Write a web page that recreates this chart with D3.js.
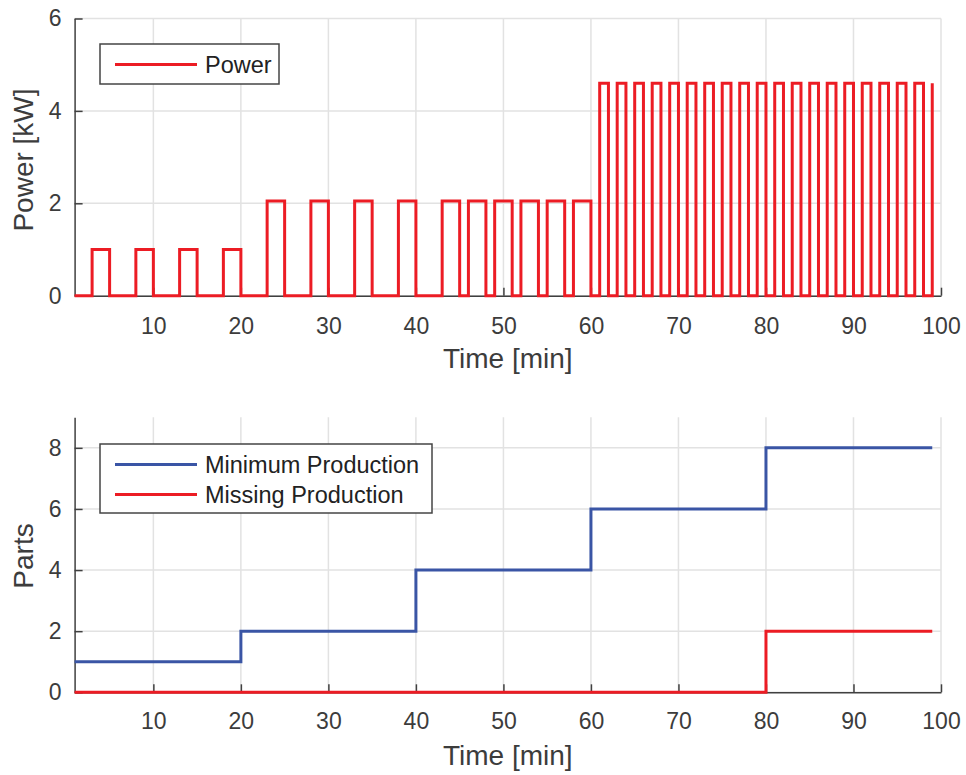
<!DOCTYPE html>
<html>
<head>
<meta charset="utf-8">
<script src="https://cdn.jsdelivr.net/npm/d3@7"></script>
<style>
  body { margin: 0; background: #fff; }
  svg { display: block; font-family: "Liberation Sans", Arial, sans-serif; }
  .tick text { fill: #3c3c3c; font-size: 23px; }
</style>
</head>
<body>
<div id="chart"></div>
<script>
// Power profile: breakpoints (step after) [min] and level [kW]
var powerTime = [1, 3, 5, 8, 10, 13, 15, 18, 20,
  23, 25, 28, 30, 33, 35, 38, 40, 43, 45, 46, 48, 49, 51, 52, 54, 55, 57, 58, 60,
  61, 62, 63, 64, 65, 66, 67, 68, 69, 70, 71, 72, 73, 74, 75, 76, 77, 78, 79, 80,
  81, 82, 83, 84, 85, 86, 87, 88, 89, 90, 91, 92, 93, 94, 95, 96, 97, 98, 99];
var powerKW = [0, 1, 0, 1, 0, 1, 0, 1, 0,
  2.05, 0, 2.05, 0, 2.05, 0, 2.05, 0, 2.05, 0, 2.05, 0, 2.05, 0, 2.05, 0, 2.05, 0, 2.05, 0,
  4.6, 0, 4.6, 0, 4.6, 0, 4.6, 0, 4.6, 0, 4.6, 0, 4.6, 0, 4.6, 0, 4.6, 0, 4.6, 0,
  4.6, 0, 4.6, 0, 4.6, 0, 4.6, 0, 4.6, 0, 4.6, 0, 4.6, 0, 4.6, 0, 4.6, 0, 4.6];

// Parts: breakpoints (step after)
var minProdTime = [1, 20, 40, 60, 80, 99];
var minProdParts = [1, 2, 4, 6, 8, 8];
var missProdTime = [1, 80, 99];
var missProdParts = [0, 2, 2];

var xTicks = [10, 20, 30, 40, 50, 60, 70, 80, 90, 100];
var yTicksPower = [0, 2, 4, 6];
var yTicksParts = [0, 2, 4, 6, 8];

var red = "#ec1c24";
var blue = "#3a55a5";
var axisColor = "#404040";
var gridColor = "#e2e2e2";

var width = 966, height = 775;
var svg = d3.select("#chart").append("svg")
  .attr("width", width)
  .attr("height", height);

var x = d3.scaleLinear().domain([1, 100]).range([74.6, 941]);

function panel(y, yTicks, labelPad) {
  var g = svg.append("g");
  // grid
  g.append("g").selectAll("line").data(xTicks).join("line")
    .attr("x1", d => x(d)).attr("x2", d => x(d))
    .attr("y1", y.range()[0]).attr("y2", y.range()[1])
    .attr("stroke", gridColor).attr("stroke-width", 1.5);
  g.append("g").selectAll("line").data(yTicks).join("line")
    .attr("x1", x.range()[0]).attr("x2", x.range()[1])
    .attr("y1", d => y(d)).attr("y2", d => y(d))
    .attr("stroke", gridColor).attr("stroke-width", 1.5);

  var xAxis = g.append("g")
    .attr("transform", `translate(0,${y.range()[0]})`)
    .call(d3.axisBottom(x).tickValues(xTicks).tickFormat(d3.format("d"))
      .tickSize(-8).tickPadding(labelPad).tickSizeOuter(0));
  var yAxis = g.append("g")
    .attr("transform", `translate(${x.range()[0]},0)`)
    .call(d3.axisLeft(y).tickValues(yTicks).tickFormat(d3.format("d"))
      .tickSize(-8).tickPadding(13).tickSizeOuter(0));
  [xAxis, yAxis].forEach(function(a) {
    a.select(".domain").attr("stroke", axisColor).attr("stroke-width", 1.5);
    a.selectAll(".tick line").attr("stroke", axisColor).attr("stroke-width", 1.5);
    a.selectAll(".tick text").attr("font-family", "Liberation Sans, Arial, sans-serif");
  });
  return g;
}

function drawStep(g, y, xs, ys, color) {
  var pts = xs.map((t, i) => [t, ys[i]]);
  g.append("path")
    .datum(pts)
    .attr("fill", "none")
    .attr("stroke", color)
    .attr("stroke-width", 3)
    .attr("d", d3.line().x(d => x(d[0])).y(d => y(d[1])).curve(d3.curveStepAfter));
}

function legend(x0, y0, w, h, items) {
  var g = svg.append("g");
  g.append("rect")
    .attr("x", x0).attr("y", y0).attr("width", w).attr("height", h)
    .attr("fill", "#fff").attr("stroke", "#444").attr("stroke-width", 1.5);
  items.forEach(function(it, i) {
    var cy = y0 + 20.5 + i * 30;
    g.append("line")
      .attr("x1", x0 + 15).attr("x2", x0 + 97)
      .attr("y1", cy).attr("y2", cy)
      .attr("stroke", it.color).attr("stroke-width", 3);
    g.append("text")
      .attr("x", x0 + 105).attr("y", cy + 8)
      .attr("fill", "#222").attr("font-size", "23.5px")
      .text(it.label);
  });
}

function axisLabel(txt, xPos, yPos, rotate) {
  svg.append("text")
    .attr("transform", `translate(${xPos},${yPos})` + (rotate ? " rotate(-90)" : ""))
    .attr("text-anchor", "middle")
    .attr("fill", "#3c3c3c")
    .attr("font-size", "28px")
    .text(txt);
}

// Top panel: power
var yPow = d3.scaleLinear().domain([0, 6]).range([295.7, 18.5]);
var topPanel = panel(yPow, yTicksPower, 22);
drawStep(topPanel, yPow, powerTime, powerKW, red);
legend(100, 44, 179, 40, [{label: "Power", color: red}]);
axisLabel("Time [min]", x(50.5), 368, false);
axisLabel("Power [kW]", 33, 160, true);

// Bottom panel: parts
var yParts = d3.scaleLinear().domain([0, 9]).range([692.3, 417.3]);
var botPanel = panel(yParts, yTicksParts, 20);
drawStep(botPanel, yParts, minProdTime, minProdParts, blue);
drawStep(botPanel, yParts, missProdTime, missProdParts, red);
legend(100, 444, 332, 69, [
  {label: "Minimum Production", color: blue},
  {label: "Missing Production", color: red}
]);
axisLabel("Time [min]", x(50.5), 765, false);
axisLabel("Parts", 33, 556, true);
</script>
</body>
</html>
